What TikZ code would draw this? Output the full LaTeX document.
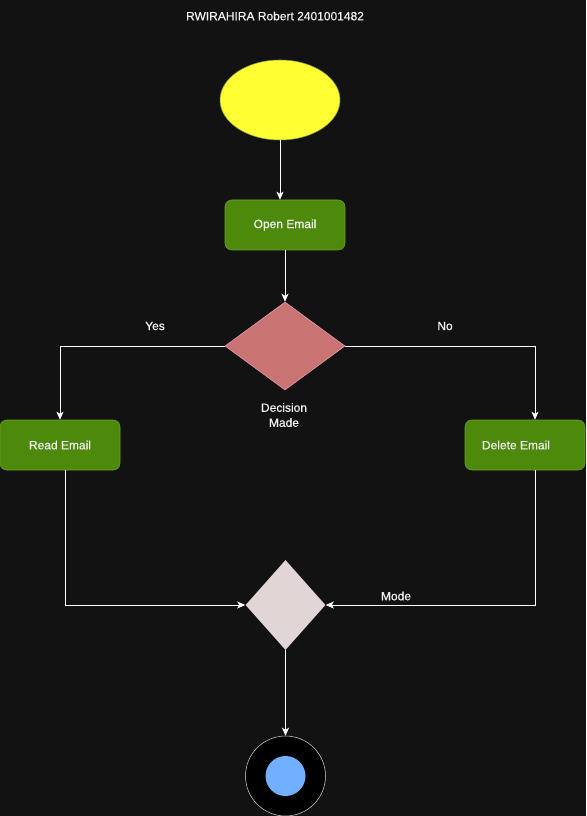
\documentclass[tikz,border=0pt]{standalone}
\usepackage{fontspec}
\setmainfont{Liberation Sans}[FakeBold=0.5]
\usetikzlibrary{shapes.geometric,arrows.meta}
\definecolor{bgdark}{HTML}{121212}
\definecolor{startfill}{HTML}{FFFF33}
\definecolor{startline}{HTML}{7EA03A}
\definecolor{actfill}{HTML}{4D8A0C}
\definecolor{actline}{HTML}{6B9E2E}
\definecolor{decfill}{HTML}{C97373}
\definecolor{decline}{HTML}{EAA0B4}
\definecolor{mergefill}{HTML}{E1D5D5}
\definecolor{endfill}{HTML}{70B0FF}
\begin{document}
\begin{tikzpicture}[x=0.75pt,y=0.75pt,yscale=-1,xscale=1,
    font=\fontsize{9}{11.25}\selectfont,
    every node/.style={text=white!95!black},
    action/.style={draw=actline,fill=actfill,rounded corners=5pt,minimum width=90pt,minimum height=37.5pt,inner sep=0pt},
    flow/.style={draw=white,line width=0.75pt,-{Stealth[length=6pt,width=5.25pt,inset=1.5pt]}}]
\useasboundingbox[fill=bgdark] (0,0) rectangle (586,816);
\node (title) at (275,16) {RWIRAHIRA Robert 2401001482};
\node (start) [ellipse,draw=startline,fill=startfill,minimum width=90pt,minimum height=60pt,inner sep=0pt] at (280,100) {};
\node (open) [action] at (285,225) {Open Email};
\node (dec) [diamond,draw=decline,fill=decfill,minimum width=90pt,minimum height=66pt,inner sep=0pt] at (285,346) {};
\node (declab) [align=center] at (284,415) {Decision\\Made};
\node (yes) at (155,326) {Yes};
\node (no) at (445,326) {No};
\node (read) [action] at (60,445) {Read Email};
\node (del) [action] at (525,445) {\hspace*{-13.5pt}Delete Email};
\node (merge) [diamond,fill=mergefill,minimum width=60pt,minimum height=67.5pt,inner sep=0pt] at (285.5,605) {};
\node (mode) at (396,596) {Mode};
\node (end) [circle,draw=white!80!black,fill=black,minimum size=60pt,inner sep=0pt] at (285.5,776) {};
\node (endin) [circle,fill=endfill,minimum size=30pt,inner sep=0pt] at (end.center) {};
\draw [flow] (start.south) -- (start.south |- open.north);
\draw [flow] (open.south) -- (dec.north);
\draw [flow] (dec.west) -| (read.north);
\draw [flow] (dec.east) -| ([xshift=7.5pt]del.north);
\draw [flow] ([xshift=3.75pt]read.south) |- (merge.west);
\draw [flow] ([xshift=7.5pt]del.south) |- (merge.east);
\draw [flow] (merge.south) -- (end.north);
\end{tikzpicture}
\end{document}
